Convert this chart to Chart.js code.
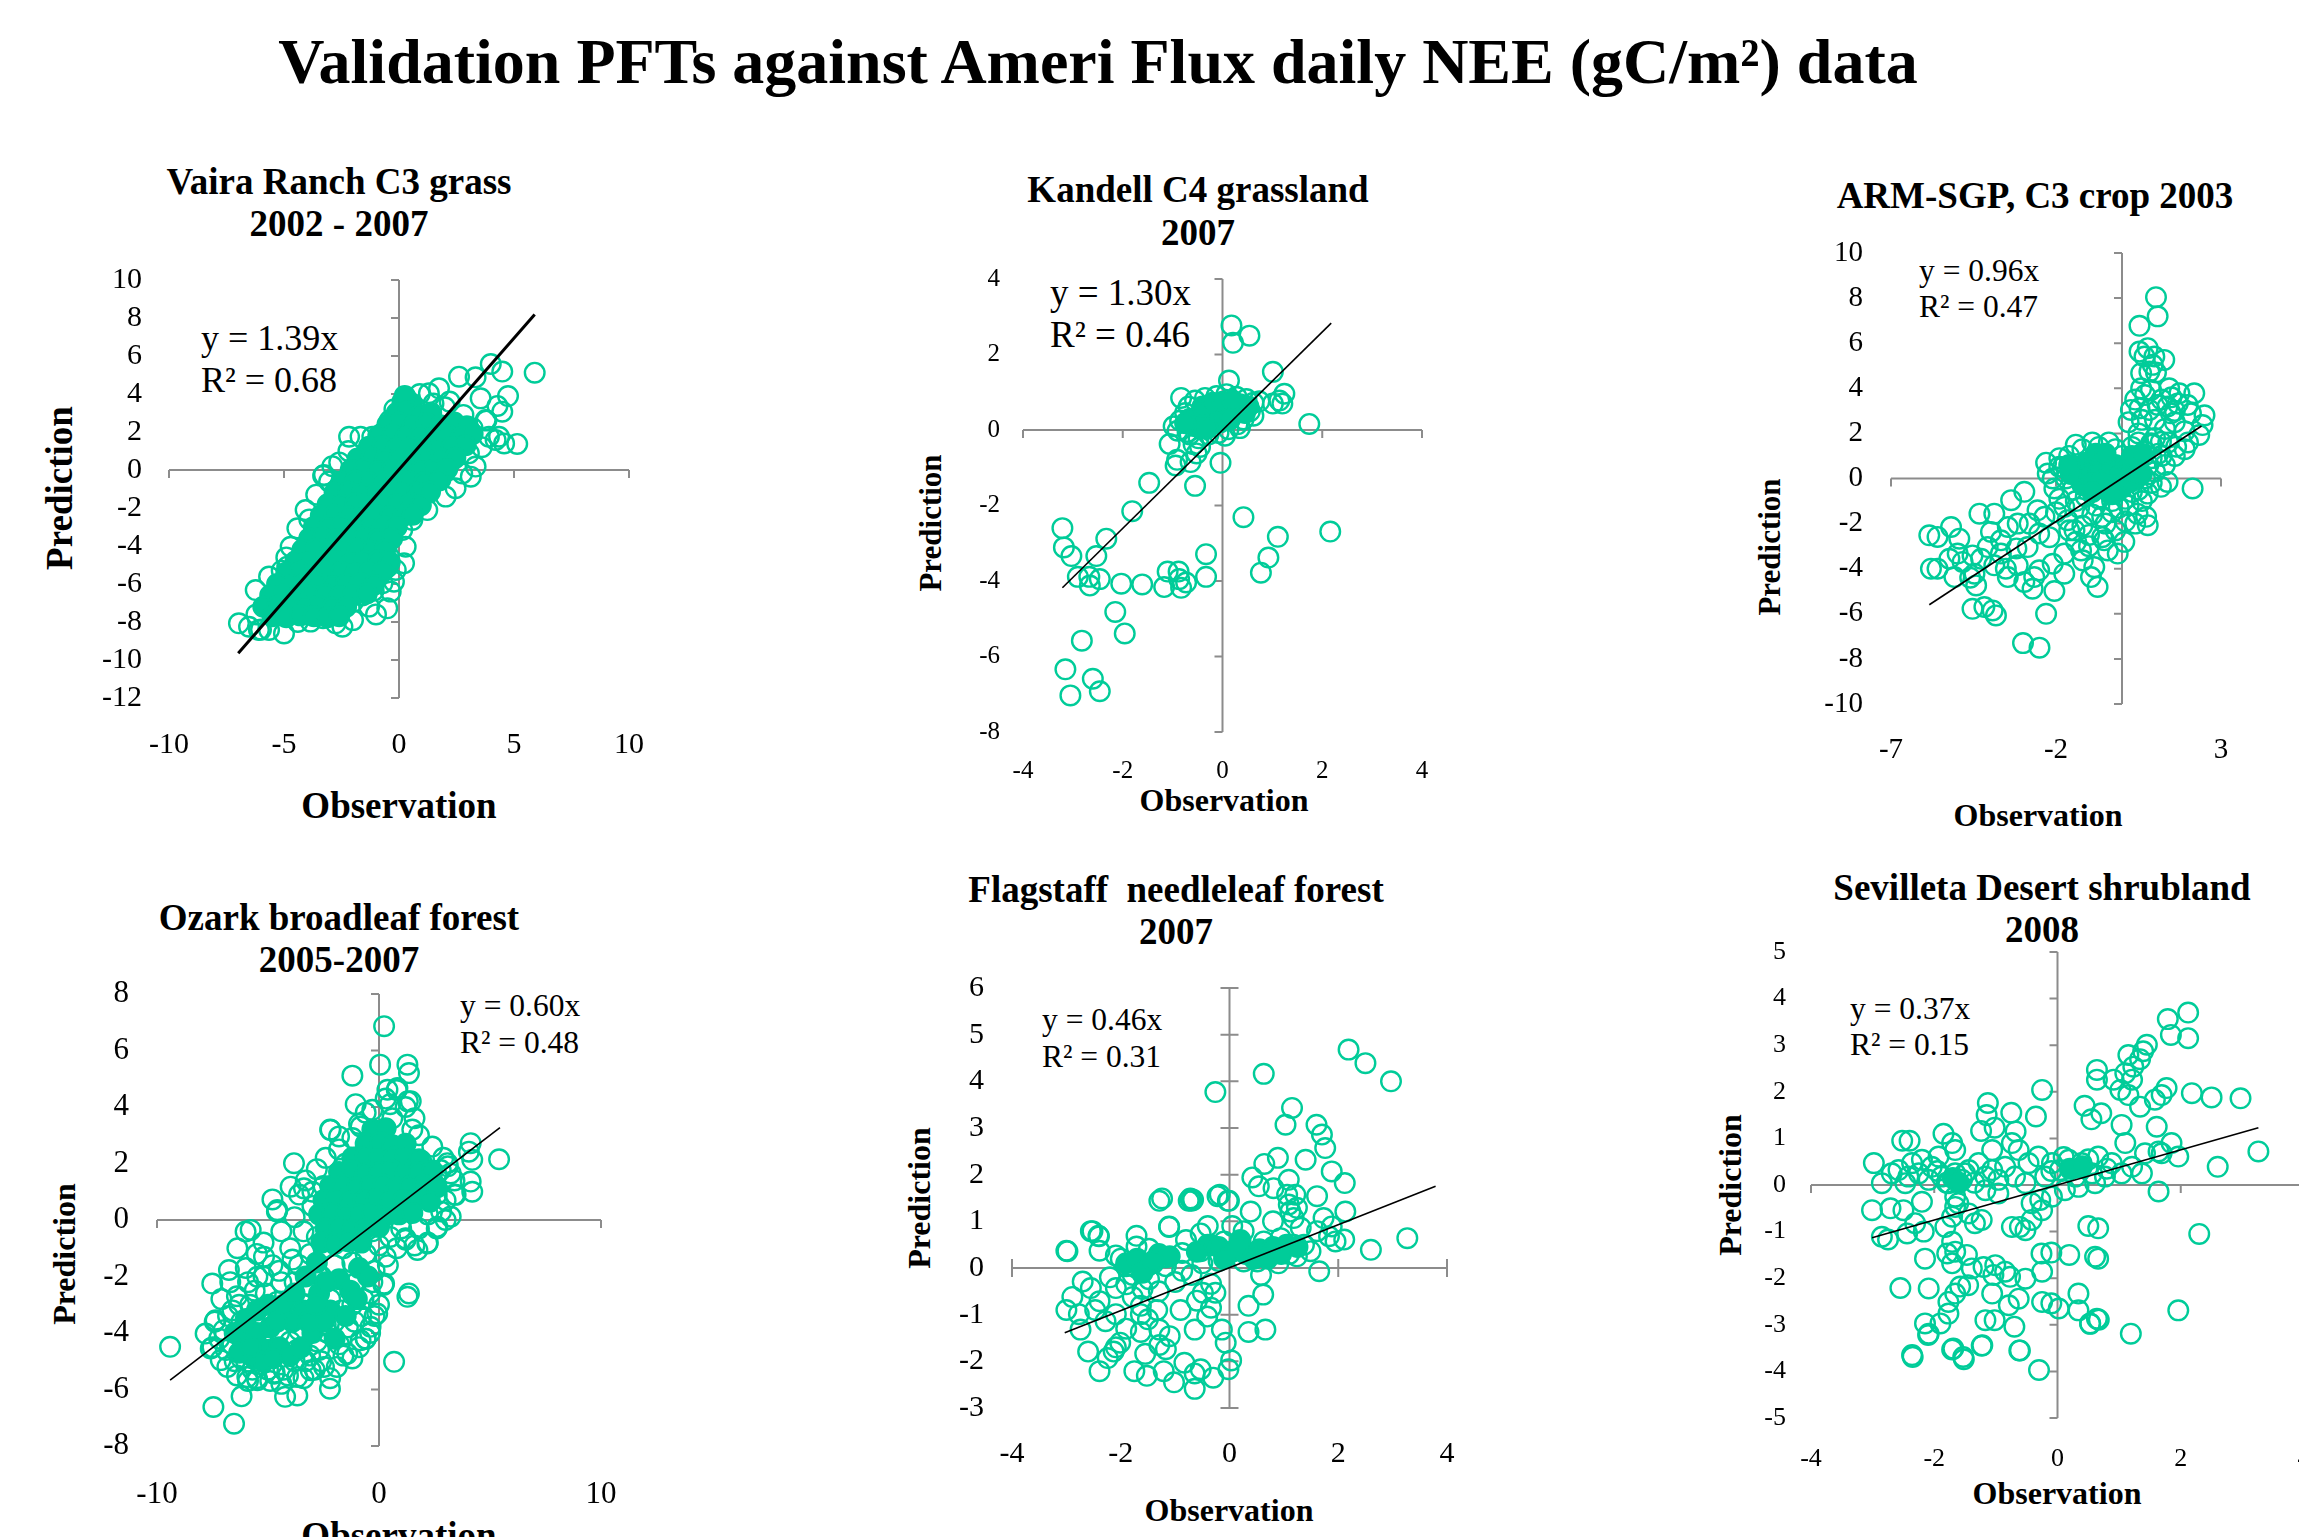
<!DOCTYPE html>
<html>
<head>
<meta charset="utf-8">
<title>Validation PFTs against Ameri Flux daily NEE</title>
<script src="https://cdn.jsdelivr.net/npm/chart.js@4.4.1/dist/chart.umd.min.js"></script>
<style>
  html, body { margin: 0; padding: 0; background: #fff; }
  body { width: 2299px; height: 1537px; position: relative; overflow: hidden;
         font-family: 'Liberation Serif', 'Times New Roman', serif; color: #000; }
  .lbl { position: absolute; white-space: nowrap; line-height: 1; }
  .ctr { transform: translate(-50%, -50%); }
  .rot { transform: translate(-50%, -50%) rotate(-90deg); }
  .b { font-weight: bold; }
  canvas { position: absolute; }
</style>
</head>
<body>

<div class="lbl b ctr" style="left:1098px; top:62px; font-size:64px;">Validation PFTs against Ameri Flux daily NEE (gC/m²) data</div>

<!-- panel titles -->
<div class="lbl b ctr" style="left:339px; top:181px; font-size:37px;">Vaira Ranch C3 grass</div>
<div class="lbl b ctr" style="left:339px; top:223px; font-size:37px;">2002 - 2007</div>
<div class="lbl b ctr" style="left:1198px; top:189px; font-size:37px;">Kandell C4 grassland</div>
<div class="lbl b ctr" style="left:1198px; top:232px; font-size:37px;">2007</div>
<div class="lbl b ctr" style="left:2035px; top:195px; font-size:37px;">ARM-SGP, C3 crop 2003</div>
<div class="lbl b ctr" style="left:339px; top:917px; font-size:37px;">Ozark broadleaf forest</div>
<div class="lbl b ctr" style="left:339px; top:959px; font-size:37px;">2005-2007</div>
<div class="lbl b ctr" style="left:1176px; top:889px; font-size:37px;">Flagstaff&nbsp; needleleaf forest</div>
<div class="lbl b ctr" style="left:1176px; top:931px; font-size:37px;">2007</div>
<div class="lbl b ctr" style="left:2042px; top:887px; font-size:37px;">Sevilleta Desert shrubland</div>
<div class="lbl b ctr" style="left:2042px; top:929px; font-size:37px;">2008</div>

<!-- axis titles -->
<div class="lbl b ctr" style="left:399px; top:805px; font-size:37px;">Observation</div>
<div class="lbl b rot" style="left:59px; top:488px; font-size:37px;">Prediction</div>
<div class="lbl b ctr" style="left:1224px; top:800px; font-size:32px;">Observation</div>
<div class="lbl b rot" style="left:930px; top:523px; font-size:31px;">Prediction</div>
<div class="lbl b ctr" style="left:2038px; top:815px; font-size:32px;">Observation</div>
<div class="lbl b rot" style="left:1769px; top:547px; font-size:31px;">Prediction</div>
<div class="lbl b ctr" style="left:399px; top:1535px; font-size:37px;">Observation</div>
<div class="lbl b rot" style="left:64px; top:1254px; font-size:32px;">Prediction</div>
<div class="lbl b ctr" style="left:1229px; top:1510px; font-size:32px;">Observation</div>
<div class="lbl b rot" style="left:919px; top:1198px; font-size:32px;">Prediction</div>
<div class="lbl b ctr" style="left:2057px; top:1493px; font-size:32px;">Observation</div>
<div class="lbl b rot" style="left:1730px; top:1185px; font-size:32px;">Prediction</div>

<!-- trend equations -->
<div class="lbl" style="left:201px; top:320px; font-size:36px;">y = 1.39x</div>
<div class="lbl" style="left:201px; top:362px; font-size:36px;">R² = 0.68</div>
<div class="lbl" style="left:1050px; top:274px; font-size:37px;">y = 1.30x</div>
<div class="lbl" style="left:1050px; top:316px; font-size:37px;">R² = 0.46</div>
<div class="lbl" style="left:1919px; top:255px; font-size:31.5px;">y = 0.96x</div>
<div class="lbl" style="left:1919px; top:291px; font-size:31.5px;">R² = 0.47</div>
<div class="lbl" style="left:460px; top:990px; font-size:31.5px;">y = 0.60x</div>
<div class="lbl" style="left:460px; top:1027px; font-size:31.5px;">R² = 0.48</div>
<div class="lbl" style="left:1042px; top:1004px; font-size:31.5px;">y = 0.46x</div>
<div class="lbl" style="left:1042px; top:1041px; font-size:31.5px;">R² = 0.31</div>
<div class="lbl" style="left:1850px; top:993px; font-size:31.5px;">y = 0.37x</div>
<div class="lbl" style="left:1850px; top:1029px; font-size:31.5px;">R² = 0.15</div>

<script>
// ---- Vaira Ranch C3 grass ----
const vairaXTicks = [-10, -5, 0, 5, 10];
const vairaYTicks = [-12, -10, -8, -6, -4, -2, 0, 2, 4, 6, 8, 10];
const vairaTrend = [[-6.99, -9.65], [5.90, 8.19]];
const vairaCore = [
  [0.15,3.6],[0.55,3.5],[0.25,3.9],
  [-0.1,3.0],[0.4,3.1],[0.9,2.9],[1.4,3.0],
  [-0.5,2.4],[0.05,2.5],[0.6,2.3],[1.2,2.45],[1.8,2.35],[2.4,2.5],[2.95,2.3],
  [-0.9,1.8],[-0.3,1.85],[0.3,1.75],[0.9,1.8],[1.5,1.7],[2.1,1.85],[2.7,1.75],[3.2,1.9],
  [-1.3,1.2],[-0.7,1.25],[-0.1,1.15],[0.5,1.2],[1.1,1.25],[1.7,1.1],[2.3,1.2],[2.9,1.3],
  [-1.8,0.6],[-1.2,0.65],[-0.6,0.55],[0.0,0.6],[0.6,0.7],[1.2,0.55],[1.8,0.6],[2.45,0.65],
  [-2.1,0.0],[-1.5,0.05],[-0.9,-0.05],[-0.3,0.0],[0.3,0.1],[0.9,-0.05],[1.5,0.0],[2.1,0.05],
  [-2.5,-0.6],[-1.9,-0.55],[-1.3,-0.65],[-0.7,-0.6],[-0.1,-0.5],[0.5,-0.6],[1.1,-0.65],[1.75,-0.55],
  [-2.8,-1.2],[-2.2,-1.15],[-1.6,-1.25],[-1.0,-1.2],[-0.4,-1.1],[0.2,-1.25],[0.8,-1.2],[1.35,-1.15],
  [-3.1,-1.8],[-2.5,-1.85],[-1.9,-1.75],[-1.3,-1.8],[-0.7,-1.9],[-0.1,-1.8],[0.5,-1.75],[0.95,-1.85],
  [-3.4,-2.4],[-2.8,-2.35],[-2.2,-2.45],[-1.6,-2.4],[-1.0,-2.35],[-0.4,-2.45],[0.2,-2.4],[0.6,-2.35],
  [-3.7,-3.0],[-3.1,-3.05],[-2.5,-2.95],[-1.9,-3.0],[-1.3,-3.1],[-0.7,-2.95],[-0.1,-3.0],
  [-3.9,-3.6],[-3.3,-3.55],[-2.7,-3.65],[-2.1,-3.6],[-1.5,-3.55],[-0.9,-3.65],[-0.3,-3.6],
  [-4.2,-4.2],[-3.6,-4.15],[-3.0,-4.25],[-2.4,-4.2],[-1.8,-4.15],[-1.2,-4.25],[-0.6,-4.2],
  [-4.5,-4.8],[-3.9,-4.85],[-3.3,-4.75],[-2.7,-4.8],[-2.1,-4.9],[-1.5,-4.8],[-0.9,-4.75],[-0.4,-4.85],
  [-4.9,-5.4],[-4.3,-5.35],[-3.7,-5.45],[-3.1,-5.4],[-2.5,-5.35],[-1.9,-5.45],[-1.3,-5.4],[-0.7,-5.35],
  [-5.3,-6.0],[-4.7,-6.05],[-4.1,-5.95],[-3.5,-6.0],[-2.9,-6.1],[-2.3,-6.0],[-1.7,-5.95],[-1.1,-6.05],
  [-5.6,-6.6],[-5.0,-6.55],[-4.4,-6.65],[-3.8,-6.6],[-3.2,-6.55],[-2.6,-6.65],[-2.0,-6.6],[-1.4,-6.5],
  [-5.9,-7.2],[-5.3,-7.15],[-4.7,-7.25],[-4.1,-7.2],[-3.5,-7.15],[-2.9,-7.25],[-2.3,-7.2],
  [-5.5,-7.7],[-4.9,-7.75],[-4.3,-7.65],[-3.7,-7.7],[-3.1,-7.75],[-2.6,-7.7]
];
const vairaOpen = [
  [5.90,5.12],[3.99,5.58],[4.49,5.18],[2.61,4.91],[3.33,4.88],[4.74,3.89],[4.28,3.37],[4.49,3.07],
  [5.14,1.37],[4.57,1.40],[4.20,1.58],[3.91,1.75],[4.35,1.75],[3.77,2.63],[3.55,3.77],[1.74,4.30],
  [1.30,4.04],[-2.17,1.75],[-1.67,1.75],[-1.16,1.75],[-0.72,1.93],[-1.30,1.23],[-3.26,-0.26],[-3.04,-0.61],
  [-4.06,-2.11],[-4.42,-3.07],[-4.71,-4.04],[-4.86,-5.09],[-5.65,-5.61],[-6.23,-6.32],[-6.96,-8.07],
  [-6.52,-8.25],[-6.09,-8.42],[-5.00,-8.60],[-5.65,-8.42],[-3.84,-7.98],[-2.75,-8.07],[-2.46,-8.25],
  [-1.30,-7.19],[-0.51,-7.28],[-0.36,-6.40],[-0.22,-5.88],[0.22,-4.91],[0.29,-4.04],[0.14,-3.16],
  [0.58,-2.63],[1.23,-2.11],[2.03,-1.40],[2.46,-0.96],[3.12,-0.35],[2.75,-0.18],[3.33,0.18],[3.04,0.88],
  [-0.72,-5.96],[-0.14,-5.26],
  [-6.2,-7.6],[-6.0,-8.4],[-5.8,-7.2],[-5.5,-6.6],[-5.1,-5.3],[-4.9,-4.6],[-3.9,-2.6],[-3.6,-1.3],
  [-3.3,-0.3],[-2.9,0.2],[-2.6,0.4],[-2.2,1.0],[-0.4,2.6],[-0.2,3.2],[0.3,3.8],[0.9,4.0],[2.2,3.6],
  [3.8,2.6],[2.8,2.9],[2.0,3.3],[1.5,3.5],[3.6,1.2],[2.8,1.5],[3.2,2.2],[2.3,0.5],[1.8,-0.5],[1.0,-1.0],
  [0.0,-2.5],[-0.6,-3.8],[-0.9,-5.2],[-1.6,-6.6],[-1.0,-7.6],[-2.0,-7.9],[-3.3,-7.8],[-4.4,-8.0],
  [-4.3,-7.4],[-3.5,-4.0],[-4.0,-5.5],[-4.5,-6.5],[-3.0,-2.0],[-2.0,-1.0],[-1.5,0.0],[-1.0,0.5],
  [-2.5,-3.0],[-3.2,-6.5],[-2.2,-5.0],[-1.2,-4.0],[-0.8,-2.5],
  [-0.5,-5.1],[-1.1,-6.35],[-2.0,-6.95],[-5.2,-7.45],[-4.0,-7.5],[-2.8,-7.45]
];

// ---- Kandell C4 grassland ----
const kandellXTicks = [-4, -2, 0, 2, 4];
const kandellYTicks = [-8, -6, -4, -2, 0, 2, 4];
const kandellTrend = [[-3.21, -4.18], [2.18, 2.83]];
const kandellCore = [
  [-0.65,0.30],[-0.45,0.42],[-0.25,0.50],[-0.05,0.58],[0.15,0.65],[0.35,0.68],[0.52,0.62],
  [-0.55,0.10],[-0.35,0.20],[-0.15,0.30],[0.05,0.40],[0.25,0.48],[0.45,0.45],[-0.75,0.18],
  [-0.40,0.62],[-0.20,0.72],[0.00,0.75],[0.20,0.78],[-0.05,0.20],[0.15,0.28],[-0.30,0.05]
];
const kandellOpen = [
  [0.18,2.77],[0.21,2.31],[0.54,2.50],[1.01,1.54],[0.13,1.31],[1.24,0.96],[1.01,0.70],[1.20,0.70],
  [1.14,0.78],[1.74,0.16],[-0.83,0.85],[-1.06,-0.37],[-0.91,-0.79],[-0.94,-0.94],[-0.64,-0.85],
  [-0.52,-0.62],[-0.04,-0.87],[-0.55,-1.48],[-1.47,-1.40],[-1.81,-2.15],[-2.33,-2.88],[-2.53,-3.34],
  [-3.21,-2.60],[-3.18,-3.11],[-3.03,-3.34],[-2.90,-3.89],[-2.67,-3.89],[-2.66,-4.12],[-2.46,-3.95],
  [-2.03,-4.07],[-1.61,-4.09],[-1.17,-4.16],[-1.10,-3.75],[-0.88,-3.75],[-0.87,-3.95],[-0.83,-4.18],
  [-0.73,-4.04],[-0.33,-3.29],[-0.33,-3.89],[0.42,-2.31],[1.11,-2.83],[0.92,-3.38],[0.77,-3.78],
  [2.16,-2.69],[-2.15,-4.82],[-1.96,-5.39],[-2.82,-5.58],[-3.15,-6.34],[-2.60,-6.59],[-2.46,-6.92],
  [-3.05,-7.03],
  [-0.98,0.10],[-0.90,-0.02],[-0.85,0.25],[-0.75,0.45],[-0.68,0.62],[-0.55,0.78],[-0.35,0.85],
  [-0.12,0.90],[0.08,0.95],[0.28,0.88],[0.48,0.82],[0.62,0.72],[0.74,0.76],[0.55,0.50],[0.42,0.28],
  [0.30,0.15],[0.12,0.02],[-0.08,-0.08],[-0.28,-0.12],[-0.48,-0.22],[-0.66,-0.12],[0.35,0.05],
  [0.62,0.38],[0.05,-0.15],[-0.45,-0.45],[-0.58,-0.38],[-0.70,-0.05],[0.20,0.60],[-0.25,0.30]
];

// ---- ARM-SGP C3 crop ----
const armXTicks = [-7, -2, 3];
const armYTicks = [-10, -8, -6, -4, -2, 0, 2, 4, 6, 8, 10];
const armTrend = [[-5.84, -5.60], [2.41, 2.33]];
const armCore = [
  [-1.40,0.50],[-1.10,0.70],[-0.80,0.80],[-0.50,0.70],[-0.20,0.60],[0.10,0.50],[0.40,0.50],
  [-1.30,0.10],[-1.00,0.20],[-0.70,0.30],[-0.40,0.20],[-0.10,0.10],[0.20,0.20],[0.50,0.80],
  [-1.20,-0.30],[-0.90,-0.20],[-0.60,-0.10],[-0.30,-0.30],[0.00,-0.40],[-0.80,1.10],[-0.50,1.10],[0.30,1.00],
  [-1.55,0.20],[0.25,-0.15],[0.45,0.15],[0.60,0.20],[0.60,1.10],[-1.60,0.60],[-0.90,-0.60],[-0.30,-0.70]
];
const armOpen = [
  [1.03,8.04],[1.08,7.19],[0.53,6.77],[0.53,5.63],[0.78,5.78],[0.68,5.41],[0.98,5.41],[1.28,5.26],
  [0.93,5.04],[0.83,4.74],[1.03,4.70],[0.58,4.67],[0.58,4.00],[0.88,3.93],[1.43,4.00],[1.74,3.78],
  [2.19,3.78],[0.27,3.04],[0.53,3.11],[0.83,3.04],[1.08,3.26],[1.38,3.19],[1.69,3.33],[1.99,3.26],
  [2.09,2.89],[1.48,2.89],[2.44,2.37],[2.34,1.93],[1.64,1.41],[1.18,1.63],[0.88,1.56],
  [2.14,-0.44],[1.38,-0.15],[1.18,-0.37],[0.78,-0.67],[0.73,-1.70],[0.78,-2.07],[0.47,-1.56],
  [0.07,-2.81],[-0.13,-3.33],[-0.43,-3.19],[-0.54,-2.74],[-0.74,-4.81],[-0.94,-4.37],[-0.84,-3.93],
  [-1.19,-3.63],[-1.24,-3.19],[-1.39,-2.81],[-1.44,-2.30],[-1.65,-1.85],[-1.75,-1.26],[-2.05,-0.44],
  [-2.30,0.70],[-2.25,0.22],[-1.90,0.52],
  [-1.75,-3.33],[-1.75,-4.22],[-2.05,-4.99],[-2.10,-3.78],[-2.51,-4.07],[-2.66,-4.37],[-2.71,-4.89],
  [-2.96,-4.59],[-3.16,-3.85],[-3.46,-4.37],[-3.52,-4.00],[-3.67,-3.33],[-3.87,-3.85],[-3.67,-2.74],
  [-3.46,-2.15],[-3.36,-0.96],[-2.96,-0.59],[-2.51,-2.44],[-2.56,-1.41],[-2.35,-1.70],[-2.86,-3.04],
  [-3.16,-2.00],[-3.87,-1.56],[-4.32,-1.56],[-3.97,-2.37],[-4.07,-3.04],[-4.27,-3.56],[-4.53,-3.41],
  [-4.47,-4.22],[-4.42,-4.74],[-4.53,-5.78],[-4.17,-5.70],[-3.92,-5.85],[-3.82,-6.07],[-4.83,-3.70],
  [-4.98,-3.33],[-5.23,-3.56],[-5.59,-4.00],[-5.79,-4.00],[-5.18,-2.15],[-4.93,-2.67],[-5.84,-2.52],
  [-5.59,-2.59],[-2.30,-6.00],[-5.08,-4.37],[-3.00,-7.30],[-2.50,-7.50],
  [-1.80,0.50],[-1.60,1.00],[-1.20,1.30],[-0.70,1.40],[-0.20,1.30],[0.30,1.40],[0.70,1.20],[0.80,0.60],
  [0.70,0.00],[0.50,-0.50],[0.10,-0.90],[-0.30,-1.00],[-0.70,-0.90],[-1.10,-0.80],[-1.50,-0.50],
  [-1.70,0.00],[-0.30,-1.50],[0.20,-1.20],[-0.50,-2.00],[-0.90,-1.60],[0.40,-2.00],[0.10,-1.90],
  [-1.00,-2.50],[-0.60,-2.60],[1.00,1.80],[1.30,2.20],[0.50,2.00],[1.60,2.50],[1.10,1.10],[1.40,1.60],
  [0.90,0.90],[0.40,0.90],[0.00,1.00],[-0.40,-0.60],[-1.30,-1.30],[-2.00,-1.50],[-1.20,-2.10],
  [-0.20,-2.30],[0.30,-0.60],[1.90,2.10],[2.00,1.60],[0.20,2.50],[0.40,3.50],[0.70,3.70],[1.20,3.50],
  [1.50,3.60],[0.60,2.60],[1.00,2.60],[1.60,3.00],[2.50,2.80],[-1.00,-3.00],[-2.80,-2.00],[-2.20,-2.60],
  [-3.20,-3.10],[-4.60,-4.40],
  [-1.90,0.90],[-1.40,1.50],[-0.90,1.60],[-0.40,1.60],[0.50,1.60],[0.90,1.50],[1.20,1.00],[1.00,0.30],
  [0.90,-0.20],[0.60,-1.00],[-0.10,-1.30],[-0.80,-1.20],[-1.40,-1.00],[-1.90,-0.90],[-2.10,0.00],
  [1.30,0.60],[1.60,1.00],[1.90,1.30],[-0.60,-1.70],[-1.60,-2.30]
];

// ---- Ozark broadleaf forest ----
const ozarkXTicks = [-10, 0, 10];
const ozarkYTicks = [-8, -6, -4, -2, 0, 2, 4, 6, 8];
const ozarkTrend = [[-9.41, -5.67], [5.45, 3.27]];
const ozarkCore = [
  [-0.3,3.2],[0.3,3.25],
  [-0.6,2.7],[0.05,2.75],[0.6,2.65],[1.2,2.7],
  [-1.2,2.2],[-0.6,2.25],[0.0,2.15],[0.6,2.2],[1.2,2.25],[1.8,2.15],
  [-1.8,1.7],[-1.2,1.75],[-0.6,1.65],[0.0,1.7],[0.6,1.75],[1.2,1.65],[1.8,1.7],[2.4,1.75],
  [-2.2,1.2],[-1.6,1.25],[-1.0,1.15],[-0.4,1.2],[0.2,1.25],[0.8,1.15],[1.4,1.2],[2.0,1.25],[2.6,1.15],
  [-2.5,0.7],[-1.9,0.75],[-1.3,0.65],[-0.7,0.7],[-0.1,0.75],[0.5,0.65],[1.1,0.7],[1.7,0.75],[2.3,0.65],
  [-2.7,0.2],[-2.1,0.25],[-1.5,0.15],[-0.9,0.2],[-0.3,0.25],[0.3,0.15],[0.9,0.2],[1.5,0.25],
  [-2.4,-0.3],[-1.8,-0.25],[-1.2,-0.35],[-0.6,-0.3],[0.0,-0.25],
  [-2.6,-0.8],[-2.0,-0.85],[-1.4,-0.75],[-0.8,-0.8],
  [-6.0,-4.3],[-5.5,-4.0],[-5.1,-4.6],[-5.6,-4.9],[-4.9,-3.8],[-4.5,-4.5],[-3.4,-3.2],[-2.7,-2.6],
  [-2.2,-3.2],[-1.8,-2.1],[-1.3,-2.5],[-0.9,-1.7],[-0.5,-2.0],[-2.8,-1.5],[-3.3,-2.0],[-4.3,-3.0],[-3.9,-3.6],
  [-6.5,-4.0],[-6.0,-3.5],[-5.5,-3.2],[-5.0,-3.0],[-4.6,-3.6],[-5.2,-5.0],[-4.8,-4.9],[-4.0,-4.8],
  [-3.5,-4.5],[-3.0,-4.0],[-2.5,-3.6],[-2.0,-4.2],[-1.5,-3.4],[-1.0,-2.8],[-3.8,-2.6],[-2.4,-2.2],
  [-6.3,-4.7],[-5.8,-4.5],[-3.2,-3.6],[-2.8,-3.0]
];
const ozarkOpen = [
  [0.23,6.86],[0.05,5.50],[1.28,5.50],[1.35,5.20],[-1.20,5.11],[-1.05,4.10],[0.38,4.61],[0.83,4.67],
  [1.43,4.20],[4.13,2.72],[4.05,2.42],[4.20,2.13],[5.41,2.15],[4.13,1.36],[4.20,1.00],[3.45,0.89],
  [-3.83,2.01],[-4.80,0.73],[-4.58,0.35],[-6.01,-0.41],[-6.38,-1.00],[-6.76,-1.77],[-7.51,-2.25],
  [-7.36,-3.55],[-7.81,-4.02],[-9.41,-4.49],[-7.58,-4.55],[-7.46,-6.62],[-6.53,-7.21],[-6.19,-6.24],
  [-4.23,-6.26],[-3.68,-6.21],[-2.21,-5.97],[0.68,-5.02],[-0.60,-4.20],[1.35,-2.60],[1.28,-2.72],
  [0.23,-2.25],[1.73,-1.06],[2.18,-0.83],[3.00,0.00],[3.23,0.12],[2.63,-0.24],[1.20,-0.65],
  [-0.08,-3.31],[-0.38,-3.78],[-0.83,-4.26],[-1.43,-4.73],[-2.48,-5.20],[-3.08,-5.32],[-3.68,-5.56],
  [-4.73,-5.44],[-5.48,-5.67],[-5.93,-5.56],[-6.83,-5.20],[-7.13,-4.96],[-5.78,-0.35],[-5.18,-1.30],
  [-5.48,-2.01],[-3.98,1.18],[-3.38,1.12],[-2.18,3.19],[-1.80,2.96],[-0.83,3.31],[3.08,2.01],
  [2.78,1.77],[3.23,1.65],
  [-7.4,-3.6],[-7.0,-3.9],[-6.6,-3.2],[-6.4,-2.7],[-6.2,-3.6],[-6.0,-4.2],[-5.8,-3.0],[-5.6,-2.5],
  [-5.4,-3.4],[-5.2,-4.0],[-5.0,-4.6],[-5.3,-5.1],[-5.7,-4.8],[-6.2,-4.9],[-6.6,-4.4],[-6.9,-4.6],
  [-7.2,-4.2],[-4.8,-3.6],[-4.6,-2.9],[-4.4,-2.2],[-4.2,-3.4],[-4.0,-4.3],[-3.8,-5.0],[-4.3,-5.3],
  [-4.7,-5.4],[-5.0,-5.3],[-3.6,-3.9],[-3.4,-3.0],[-3.2,-2.3],[-3.0,-3.5],[-2.8,-4.3],[-2.6,-5.0],
  [-3.1,-4.8],[-2.4,-3.7],[-2.2,-2.8],[-2.0,-3.6],[-1.8,-4.4],[-1.6,-4.8],[-1.4,-3.8],[-1.2,-3.0],
  [-1.0,-2.2],[-0.8,-3.4],[-0.6,-4.2],[-0.4,-2.6],[-0.2,-3.4],[-2.6,-2.0],[-3.6,-1.6],[-4.0,-1.0],
  [-4.8,-1.6],[-5.2,-2.0],[-3.8,-2.2],[-2.0,-1.6],[-1.6,-1.0],[-1.2,-1.5],[-0.6,-1.2],[-0.2,-1.8],
  [-4.4,-0.4],[-4.6,0.3],[-3.8,0.1],[-3.4,-0.4],[-3.0,0.5],[-2.8,-0.6],[-2.2,-0.3],[-5.2,-0.8],
  [-6.0,-1.7],[-5.5,-1.2],[-6.7,-2.2],[-7.1,-2.8],[-7.5,-4.5],[-6.4,-5.5],[-5.9,-5.7],[-5.5,-5.6],
  [-4.4,-5.8],[-3.4,-5.6],[-2.9,-5.3],[-2.2,-5.6],[-1.9,-5.2],[-1.2,-4.9],[-0.9,-4.5],[-0.4,-4.0],
  [0.0,-3.0],[0.2,-2.3],[0.4,-1.6],[0.8,-1.0],[1.2,-0.7],[1.6,-0.9],[2.2,-0.8],[2.6,-0.3],[2.8,0.3],
  [2.2,0.2],[1.8,-0.3],[1.0,-0.3],[0.5,-0.6],[0.0,-0.9],[-0.3,-0.4],
  [-1.2,2.9],[-1.8,2.5],[-2.4,2.2],[-2.8,1.8],[-3.3,1.4],[-3.6,0.9],[-2.2,3.2],[-0.9,3.4],[-0.3,3.9],
  [0.3,4.3],[0.8,4.6],[1.3,4.2],[1.6,3.6],[1.8,3.0],[2.4,2.6],[2.9,2.2],[3.1,1.9],[3.4,1.4],[3.4,0.9],
  [3.0,0.7],[2.6,0.9],[1.5,3.2],[0.6,3.6],[-0.6,3.8],[1.9,2.1],[2.6,1.6],[-1.5,2.0],[-2.5,1.2],
  [-3.0,1.0],[1.2,4.0],[0.5,4.1],
  [-6.8,-3.4],[-6.3,-3.0],[-5.9,-2.2],[-5.1,-2.6],[-4.5,-1.8],[-3.9,-1.4],[-3.1,-1.2],[-2.5,-1.0],
  [-1.9,-0.6],[-6.5,-5.0],[-5.7,-5.3],[-4.9,-5.7],[-4.1,-5.5],[-3.3,-5.0],[-2.7,-4.6],[-2.3,-4.0],
  [-1.7,-3.2],[-1.1,-3.6],[-0.7,-2.8],[-0.3,-2.2],[0.3,-1.3],[-3.7,-4.6],[-4.5,-4.0],[-5.5,-4.4],[-6.0,-4.7]
];

// ---- Flagstaff needleleaf forest ----
const flagXTicks = [-4, -2, 0, 2, 4];
const flagYTicks = [-3, -2, -1, 0, 1, 2, 3, 4, 5, 6];
const flagTrend = [[-3.03, -1.39], [3.79, 1.75]];
const flagCore = [
  [-1.9,0.1],[-1.7,0.2],[-1.5,0.05],[-1.3,0.3],[-1.1,0.25],[-0.4,0.5],[-0.2,0.45],[0.05,0.35],
  [0.3,0.3],[0.55,0.4],[0.8,0.45],[1.05,0.5],[0.2,0.6],[0.45,0.2],[0.7,0.2],
  [-0.1,0.2],[0.15,0.45],[0.95,0.3],[1.25,0.45],[-1.6,-0.1],[-1.4,0.15],[-0.6,0.35]
];
const flagOpen = [
  [2.19,4.68],[2.50,4.39],[2.97,4.00],[0.63,4.16],[-0.26,3.77],[1.15,3.43],[1.03,3.07],[1.60,3.07],
  [1.70,2.86],[1.76,2.57],[1.40,2.32],[0.89,2.36],[0.64,2.23],[1.88,2.07],[2.12,1.82],[0.42,1.94],
  [0.54,1.75],[0.81,1.71],[1.09,1.89],[1.61,1.54],[2.13,1.21],[1.73,1.07],[1.88,0.89],[1.95,0.57],
  [3.27,0.64],[2.60,0.39],[1.65,-0.07],[0.39,1.21],[-0.18,1.57],[-0.01,1.44],[-1.24,1.49],[-0.72,1.49],
  [-0.67,1.46],[-1.11,0.89],[-2.52,0.79],[-2.40,0.68],[-2.98,0.36],
  [-2.39,-2.21],[-2.60,-1.79],[-2.74,-1.32],[-3.00,-0.90],[-2.89,-0.62],[-2.24,-1.93],[-2.09,-1.70],
  [-1.75,-2.21],[-1.52,-2.31],[-1.21,-2.21],[-1.02,-2.45],[-0.83,-2.03],[-0.64,-2.59],[-0.64,-2.26],
  [-0.53,-2.17],[-0.30,-2.35],[-0.02,-2.17],[0.03,-1.98],[-0.07,-1.60],[-0.14,-1.32],[0.35,-1.37],
  [0.66,-1.32],[0.62,-0.57],[0.35,-0.81],[0.58,-0.15],[-0.64,-1.32],[-0.41,-1.04],[-0.34,-0.85],
  [-0.26,-0.53],[-1.29,-1.32],[-1.63,-0.99],[-1.63,-1.37],[-1.29,-1.65],[-1.10,-1.46],[-1.17,-1.74],
  [-2.01,-1.60],[-2.13,-1.79],[-1.55,-1.84],
  [-3.00,0.37],[-2.55,0.79],[-2.41,0.69],[-1.71,0.69],[-1.71,0.46],[-1.90,0.04],[-1.11,0.88],[-1.29,1.44],
  [-0.75,1.44],[-0.70,1.44],[-0.22,1.54],[-0.03,1.44],[-0.53,0.74],[-2.39,0.37],[-2.09,0.27],[-1.48,0.41],
  [-1.17,0.23],[-0.87,0.32],[-2.70,-0.29],[-2.55,-0.43],[-2.39,-0.71],[-2.09,-0.43],[-1.78,-0.15],
  [-1.48,-0.24],[-1.17,0.04],[-0.87,-0.06],[-0.49,-0.53],[-0.34,-0.34],[-1.78,-0.62],[-1.63,-0.81],
  [-1.33,-0.90],[-2.09,-0.99],[-2.47,-0.90],[-2.28,-1.14],[-2.77,-0.99],
  [0.26,0.79],[0.63,0.57],[0.94,0.64],[1.18,0.50],[1.37,0.50],[1.06,1.57],[1.21,1.57],[1.12,1.21],
  [1.18,1.07],[1.24,1.29],[1.09,1.36],[1.31,0.86],[2.11,0.61],[1.83,0.68],[1.61,0.79],[1.49,0.36],
  [1.24,0.25],[0.51,0.14],[0.26,0.14],[0.69,0.29],[0.20,0.57],[-0.10,0.57],[-0.35,0.50],[-0.53,0.36],
  [-0.5,0.1],[-0.8,0.6],[-1.4,0.1],[-2.0,0.2],[-2.2,-0.2],[-1.9,-0.35],[-1.6,-0.45],[-1.3,-0.5],
  [-1.0,-0.3],[-0.7,-0.15],[-0.2,0.15],[0.9,0.1],[1.1,0.3],[0.05,0.9],[-0.4,0.9],[0.8,1.0],
  [-1.5,-1.1],[-1.9,-1.3],[-0.9,-0.9],[-0.6,-0.7]
];

// ---- Sevilleta Desert shrubland ----
const sevXTicks = [-4, -2, 0, 2, 4];
const sevYTicks = [-5, -4, -3, -2, -1, 0, 1, 2, 3, 4, 5];
const sevTrend = [[-3.01, -1.13], [3.26, 1.23]];
const sevCore = [[-1.7,0.15],[-1.6,0.05],[0.2,0.35],[0.4,0.4]];
const sevOpen = [
  [2.12,3.70],[1.79,3.56],[1.84,3.22],[2.12,3.15],[1.45,3.01],[1.39,2.87],[1.34,2.70],[1.15,2.79],
  [1.23,2.54],[1.10,2.40],[1.21,2.26],[0.91,2.26],[0.64,2.47],[0.64,2.26],[1.02,2.04],[1.15,1.93],
  [1.34,1.68],[1.58,1.83],[1.77,2.08],[1.69,1.93],[2.18,1.97],[2.50,1.88],[2.97,1.86],[0.44,1.70],
  [0.55,1.41],[0.71,1.54],[1.04,1.29],[1.61,1.25],[3.26,0.72],[2.60,0.39],[1.96,0.61],[1.85,0.90],
  [1.64,0.72],[1.64,-0.14],[-0.25,2.04],[-1.13,1.76],[-1.15,1.50],[-0.75,1.55],[-0.35,1.47],
  [-1.02,1.23],[-1.24,1.16],[-0.68,1.15],[-1.85,1.10],[-2.52,0.95],[-2.40,0.95],[-2.98,0.47],
  [-2.85,0.04],[-3.01,-0.54],[-2.71,-0.50],[-2.50,-0.54],[-2.20,-0.36],[-2.85,-1.11],[-2.75,-1.17],
  [-2.44,-1.04],[-2.31,-0.82],[-2.17,-1.00],[-2.55,-2.21],[-2.09,-2.22],[-2.36,-3.65],[-2.15,-2.97],
  [-2.09,-3.19],[-1.90,-2.97],[-1.77,-2.76],[-1.77,-2.51],[-1.66,-2.33],[-1.58,-2.18],[-1.45,-2.15],
  [-1.69,-3.51],[-1.53,-3.69],[-2.15,-1.58],[-1.79,-1.47],[-1.66,-1.43],[-1.47,-1.50],[-1.71,-1.68],
  [-1.39,-1.79],[-1.20,-1.76],[-1.01,-1.72],[-1.04,-1.93],[-0.85,-1.86],[-0.77,-1.97],[-0.52,-2.01],
  [-0.25,-1.86],[-0.26,-1.47],[-0.10,-1.45],[0.19,-1.50],[-1.06,-2.33],[-0.79,-2.58],[-0.63,-2.44],
  [-1.17,-2.90],[-1.22,-3.44],[-1.02,-2.90],[-0.70,-3.04],[-0.61,-3.55],[-0.25,-2.51],[-0.10,-2.54],
  [0.02,-2.65],[0.34,-2.33],[0.34,-2.69],[0.53,-2.97],[0.64,-2.87],[1.19,-3.19],[1.96,-2.69],
  [2.30,-1.05],[0.50,-0.88],[0.66,-0.93],[0.61,-1.54],[0.66,-1.58],[-0.61,-0.90],[-0.52,-0.97],
  [-0.74,-0.90],[-0.42,-0.75],[-0.25,-0.54],[-0.28,-0.32],[-1.34,-0.82],[-1.23,-0.75],[-1.44,-0.61],
  [-1.71,-0.68],[-1.66,-0.47],[-1.82,-0.90],[-1.71,-1.22],
  [-0.30,-3.97],[-2.35,-3.69],[-1.52,-3.74],[-1.71,-3.53],[-0.62,-3.55],[-1.23,-3.45],[-2.10,-3.22],
  [0.53,-2.98],[0.67,-2.89],
  [-2.69,0.25],[-2.58,0.32],[-2.42,0.18],[-2.36,0.47],[-2.20,0.54],[-2.25,0.25],[-2.09,0.11],
  [-2.04,0.39],[-1.88,0.18],[-1.77,0.04],[-1.66,0.25],[-1.55,0.11],[-1.44,0.32],[-1.28,0.47],
  [-1.17,0.18],[-1.06,0.32],[-0.96,0.11],[-0.85,0.39],[-0.69,0.18],[-0.52,0.04],[-0.47,0.47],
  [-0.31,0.61],[-0.20,0.18],[-0.09,0.47],[0.04,0.32],[0.18,0.54],[0.29,0.18],[0.39,0.47],[0.56,0.25],
  [0.66,0.61],[0.77,0.18],[0.88,0.47],[1.04,0.25],[1.21,0.39],[1.37,0.25],[1.10,0.90],[-0.74,0.90],
  [-0.63,0.75],[-1.06,0.75],[-1.66,0.75],[-1.71,0.90],[-1.93,0.61],[-2.47,0.04],[-1.17,-0.11],
  [-0.96,-0.18],[-1.66,-0.25],[-1.61,-0.39],[-0.42,-0.39],[0.12,-0.11],[0.34,-0.04],[0.61,0.04],
  [-0.09,-0.25],[1.42,0.68],[1.69,0.68],
  [-1.95,0.30],[-1.80,0.05],[-1.50,0.25],[-1.35,0.05],[-0.10,0.30],[0.10,0.60],[0.50,0.55],[0.80,0.35]
];

// crossing axes through the origin, as in the original spreadsheet charts
const crossAxes = {
  id: 'crossAxes',
  beforeDatasetsDraw(chart, args, opts) {
    const {ctx, scales: {x, y}} = chart;
    const x0 = x.getPixelForValue(0);
    const y0 = y.getPixelForValue(0);
    const len = opts.tickLen;
    ctx.save();
    ctx.strokeStyle = '#8c8c8c';
    ctx.lineWidth = 2;
    ctx.beginPath();
    ctx.moveTo(x.left, y0); ctx.lineTo(x.right, y0);
    ctx.moveTo(x0, y.top); ctx.lineTo(x0, y.bottom);
    x.ticks.forEach(t => {
      const px = x.getPixelForValue(t.value);
      ctx.moveTo(px, y0 - (opts.cross ? len : 0));
      ctx.lineTo(px, y0 + len);
    });
    y.ticks.forEach(t => {
      const py = y.getPixelForValue(t.value);
      ctx.moveTo(x0 - len, py);
      ctx.lineTo(x0 + (opts.cross ? len : 0), py);
    });
    ctx.stroke();
    ctx.restore();
  }
};

const teal = '#00cc99';
// room round the plot area, larger than the label overflow so the plot box lands where wanted
const PAD_L = 130, PAD_T = 80, PAD_R = 80, PAD_B = 90;

function makePanel(p, xTicks, yTicks, core, open, trend) {
  const w = p.right - p.left + PAD_L + PAD_R;
  const h = p.bottom - p.top + PAD_T + PAD_B;
  const canvas = document.createElement('canvas');
  canvas.width = w;
  canvas.height = h;
  canvas.style.left = (p.left - PAD_L) + 'px';
  canvas.style.top = (p.top - PAD_T) + 'px';
  canvas.style.width = w + 'px';
  canvas.style.height = h + 'px';
  document.body.appendChild(canvas);

  const pts = arr => arr.map(([x, y]) => ({x, y}));
  const tickFont = {family: "'Liberation Serif', 'Times New Roman', serif", size: p.tickSize, lineHeight: 1};

  new Chart(canvas, {
    type: 'scatter',
    data: {
      datasets: [
        { data: pts(trend), showLine: true, borderColor: '#000', borderWidth: p.trendWidth, pointRadius: 0 },
        { data: pts(core), pointRadius: 9.8, borderWidth: 2.4, borderColor: teal, backgroundColor: teal },
        { data: pts(open), pointRadius: 9.8, borderWidth: 2.4, borderColor: teal, backgroundColor: 'rgba(0,0,0,0)' }
      ]
    },
    options: {
      responsive: false,
      animation: false,
      devicePixelRatio: 1,
      events: [],
      layout: { padding: { left: 0, top: PAD_T, right: PAD_R, bottom: 0 } },
      plugins: {
        legend: { display: false },
        tooltip: { enabled: false },
        crossAxes: { cross: p.cross, tickLen: p.cross ? 9 : 8 }
      },
      scales: {
        x: {
          type: 'linear', position: 'bottom',
          min: xTicks[0], max: xTicks[xTicks.length - 1],
          grid: { display: false, drawTicks: false },
          border: { display: false },
          afterBuildTicks: s => { s.ticks = xTicks.map(v => ({value: v})); },
          afterFit: s => { s.height = PAD_B; },
          ticks: { font: tickFont, color: '#000', padding: p.xPad, autoSkip: false,
                   minRotation: 0, maxRotation: 0, callback: v => String(v) }
        },
        y: {
          type: 'linear', position: 'left',
          min: yTicks[0], max: yTicks[yTicks.length - 1],
          grid: { display: false, drawTicks: false },
          border: { display: false },
          afterBuildTicks: s => { s.ticks = yTicks.map(v => ({value: v})); },
          afterFit: s => { s.width = PAD_L; },
          ticks: { font: tickFont, color: '#000', padding: p.yPad, autoSkip: false,
                   callback: v => String(v) }
        }
      }
    },
    plugins: [crossAxes]
  });
}

makePanel({left: 169, top: 280, right: 629, bottom: 698, tickSize: 30, xPad: 32, yPad: 27, cross: false, trendWidth: 3},
          vairaXTicks, vairaYTicks, vairaCore, vairaOpen, vairaTrend);
makePanel({left: 1023, top: 279, right: 1422, bottom: 732, tickSize: 25, xPad: 27, yPad: 23, cross: false, trendWidth: 1.6},
          kandellXTicks, kandellYTicks, kandellCore, kandellOpen, kandellTrend);
makePanel({left: 1891, top: 253, right: 2221, bottom: 704, tickSize: 29, xPad: 32, yPad: 28, cross: false, trendWidth: 1.6},
          armXTicks, armYTicks, armCore, armOpen, armTrend);
makePanel({left: 157, top: 994, right: 601, bottom: 1446, tickSize: 31, xPad: 33, yPad: 28, cross: false, trendWidth: 1.6},
          ozarkXTicks, ozarkYTicks, ozarkCore, ozarkOpen, ozarkTrend);
makePanel({left: 1012, top: 988, right: 1447, bottom: 1408, tickSize: 30, xPad: 31, yPad: 28, cross: true, trendWidth: 1.6},
          flagXTicks, flagYTicks, flagCore, flagOpen, flagTrend);
makePanel({left: 1811, top: 952, right: 2304, bottom: 1418, tickSize: 26, xPad: 28, yPad: 25, cross: false, trendWidth: 1.6},
          sevXTicks, sevYTicks, sevCore, sevOpen, sevTrend);
</script>
</body>
</html>
